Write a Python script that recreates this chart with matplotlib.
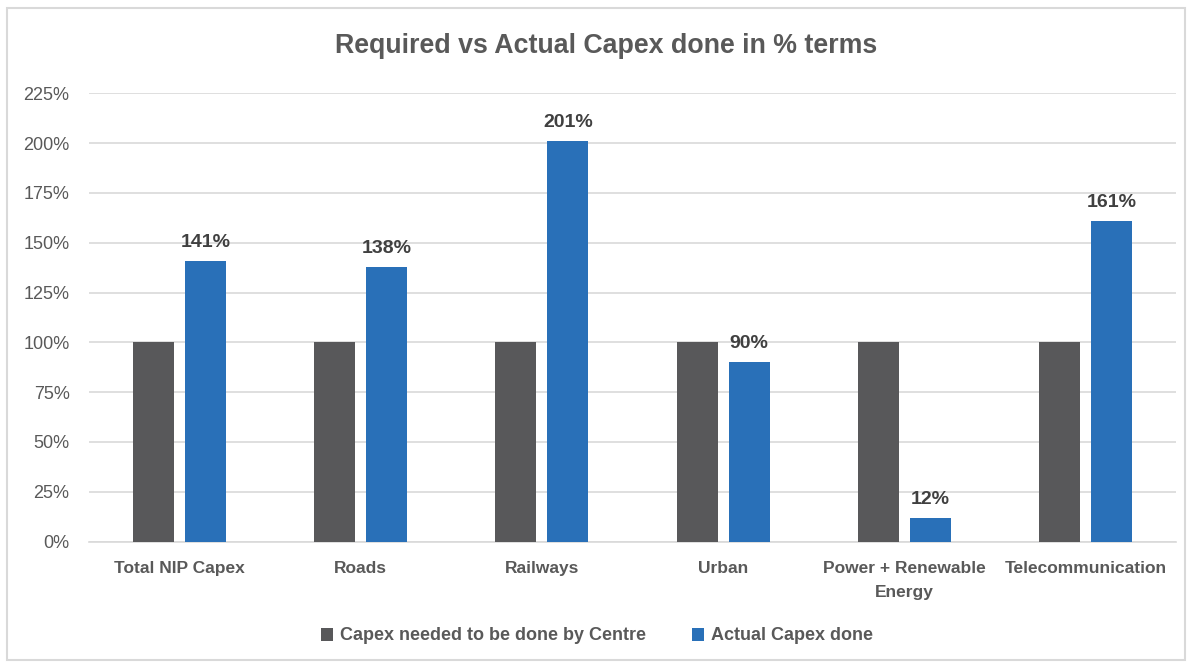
import matplotlib
matplotlib.use("Agg")
import matplotlib.pyplot as plt
import numpy as np
from matplotlib.patches import Rectangle
from matplotlib.ticker import FuncFormatter

categories = ["Total NIP Capex", "Roads", "Railways", "Urban", "Power + Renewable\nEnergy", "Telecommunication"]
required = [100, 100, 100, 100, 100, 100]
actual = [141, 138, 201, 90, 12, 161]
series_names = ["Capex needed to be done by Centre", "Actual Capex done"]
title = "Required vs Actual Capex done in % terms"

c_gray = "#58585A"
c_blue = "#2970B8"
txt = "#595959"

narrow = ["Liberation Sans Narrow", "Liberation Sans", "DejaVu Sans"]
plain = ["Liberation Sans", "DejaVu Sans"]

fig = plt.figure(figsize=(11.94, 6.63), dpi=100)
fig.patches.append(Rectangle((7/1194, 3/663), 1178/1194, 652/663, transform=fig.transFigure,
                             fill=False, edgecolor="#D9D9D9", linewidth=1.5))

ax = fig.add_axes([89/1194, 121.5/663, 1087/1194, 448.2/663])
x = np.arange(len(categories))
w = 0.227
off = 0.1436
ax.bar(x - off, np.array(required) / 100, width=w, color=c_gray, label=series_names[0], zorder=3)
ax.bar(x + off, np.array(actual) / 100, width=w, color=c_blue, label=series_names[1], zorder=3)
for xi, v in zip(x, actual):
    ax.annotate(f"{v}%", (xi + off, v / 100), xytext=(0, 7), textcoords="offset points",
                ha="center", va="bottom", fontsize=14, fontweight="bold", color="#404040",
                family=narrow)

ax.set_xlim(-0.5, 5.5)
ax.set_ylim(0, 2.25)
ax.set_yticks(np.arange(0, 2.26, 0.25))
ax.yaxis.set_major_formatter(FuncFormatter(lambda v, p: f"{v*100:.0f}%"))
ax.grid(axis="y", color="#D9D9D9", linewidth=1.2, zorder=0)
for s in ["top", "right", "left"]:
    ax.spines[s].set_visible(False)
ax.spines["bottom"].set_color("#D9D9D9")
ax.spines["bottom"].set_linewidth(1.2)
ax.tick_params(axis="both", length=0)
ax.tick_params(axis="y", pad=14, labelsize=13, labelcolor=txt)
for lab in ax.get_yticklabels():
    lab.set_family(plain)
ax.set_xticks(x)
ax.set_xticklabels(categories, fontsize=12.5, fontweight="bold", color=txt, family=narrow,
                   linespacing=1.75)
ax.tick_params(axis="x", pad=14)

fig.text(606/1194, 1 - 46/663, title, ha="center", va="center", fontsize=19.3, fontweight="bold",
         color=txt, family=narrow)

leg = fig.legend(loc="center", bbox_to_anchor=(0.5, 1 - 636/663), ncol=2, frameon=False,
                 prop={"family": narrow, "weight": "bold", "size": 13},
                 handlelength=0.7, handleheight=0.7, handletextpad=0.4, columnspacing=2.5)
for t in leg.get_texts():
    t.set_color(txt)

fig.savefig("out.png", dpi=100)
